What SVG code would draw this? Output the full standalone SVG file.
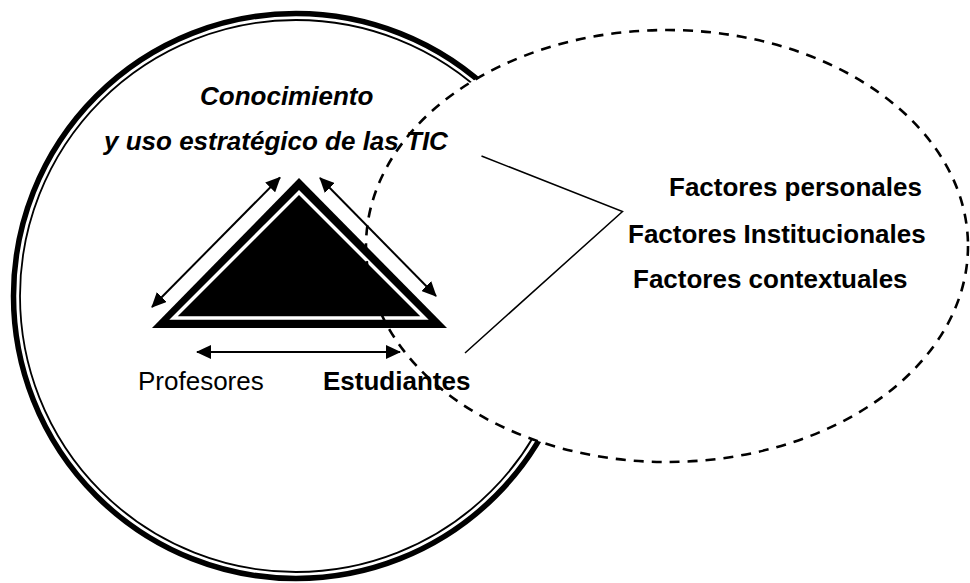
<svg xmlns="http://www.w3.org/2000/svg" width="970" height="583" viewBox="0 0 970 583">
  <style>
    .t { font-family: "Liberation Sans", Arial, sans-serif; font-size: 26px; fill: #000; }
    .b { font-weight: bold; }
    .i { font-style: italic; }
    .conn { stroke: #000; fill: none; }
    .dash { fill: none; stroke: #000; stroke-width: 2.6; stroke-dasharray: 10 8; }
  </style>
  <defs>
    <marker id="ah" viewBox="0 0 15 14" refX="14" refY="7" markerWidth="15" markerHeight="14" markerUnits="userSpaceOnUse" orient="auto-start-reverse">
      <path d="M0,0 L15,7 L0,14 z" fill="#000"/>
    </marker>
  </defs>
  <rect width="970" height="583" fill="#fff"/>

  <g id="circle-node">
    <circle cx="296" cy="296" r="282.5" fill="#fff" stroke="#000" stroke-width="5.5"/>
    <circle cx="296" cy="296" r="276" fill="none" stroke="#000" stroke-width="1.8"/>
  </g>

  <g id="factors-node">
    <ellipse cx="667" cy="246" rx="301" ry="216" fill="#fff" stroke="none"/>
    <text class="t b" x="669" y="196">Factores personales</text>
    <text class="t b" x="628" y="243">Factores Institucionales</text>
    <text class="t b" x="633" y="288">Factores contextuales</text>
  </g>

  <g id="triangle-node">
    <polygon points="299,178 152,328 447,328" fill="#000"/>
    <polygon points="299,192.5 173.5,318 424.5,318" fill="none" stroke="#fff" stroke-width="3.5" stroke-linejoin="miter"/>
  </g>

  <g id="tic-label">
    <text class="t b i" x="200" y="105">Conocimiento</text>
    <text class="t b i" x="104" y="150">y uso estratégico de las TIC</text>
  </g>

  <g id="profesores-label">
    <text class="t" x="138" y="390">Profesores</text>
  </g>

  <g id="estudiantes-label">
    <text class="t b" x="323" y="390">Estudiantes</text>
  </g>

  <g id="factors-outline">
    <ellipse class="dash" cx="667" cy="246" rx="301" ry="216"/>
  </g>

  <g id="connectors">
    <line class="conn" x1="152" y1="307" x2="280" y2="177.5" stroke-width="2" marker-start="url(#ah)" marker-end="url(#ah)"/>
    <line class="conn" x1="320" y1="178" x2="436" y2="296" stroke-width="2" marker-start="url(#ah)" marker-end="url(#ah)"/>
    <line class="conn" x1="197" y1="352" x2="400" y2="352" stroke-width="2" marker-start="url(#ah)" marker-end="url(#ah)"/>
    <polyline class="conn" points="481.5,156 622.5,211.5 465,353" stroke-width="1.5"/>
  </g>
</svg>
